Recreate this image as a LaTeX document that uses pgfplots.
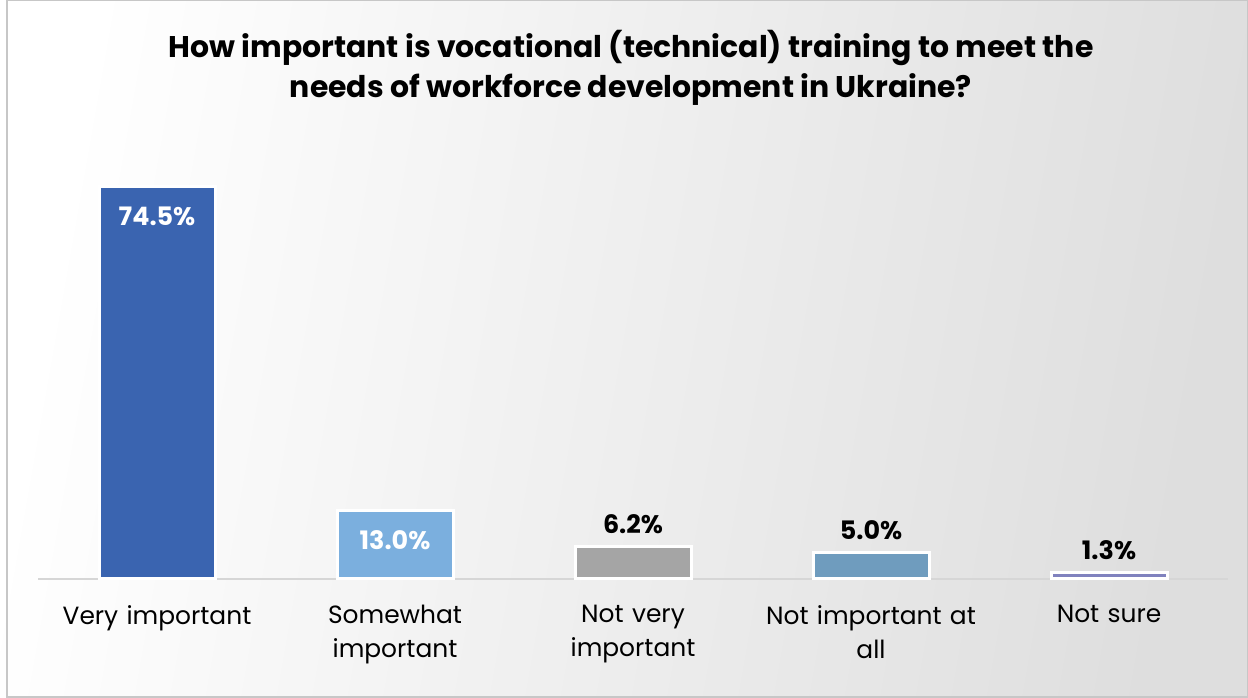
\documentclass[border=0pt]{standalone}
\usepackage{pgfplots}
\pgfplotsset{compat=1.18}
\usepackage{fontspec}
\setmainfont{Poppins}
\definecolor{c1}{HTML}{3A64B0}
\definecolor{c2}{HTML}{7BAFDE}
\definecolor{c3}{HTML}{A5A5A5}
\definecolor{c4}{HTML}{6F9CBE}
\definecolor{c5}{HTML}{8082BE}
\begin{document}
\begin{tikzpicture}[x=1bp,y=1bp]
\useasboundingbox (0,0) rectangle (1248,698);
\shade[left color=white,right color=black!13,shading angle=80] (0,0) rectangle (1248,698);
\draw[black!22,line width=1.5bp] (7,0.75) -- (7,697.25) -- (1247.25,697.25) -- (1247.25,0.75) -- cycle;
\node[font=\fontsize{30}{40}\selectfont\bfseries,align=center] at (631,630) {How important is vocational (technical) training to meet the\\needs of workforce development in Ukraine?};
\begin{axis}[
  at={(38bp,119bp)}, anchor=south west, scale only axis,
  width=1190bp, height=439bp,
  xmin=-0.5, xmax=4.5, ymin=0, ymax=83.43,
  axis y line=none, axis x line*=bottom,
  x axis line style={black!16,line width=1.5bp,-},
  xtick={0,1,2,3,4}, xtick style={draw=none},
  xticklabels={Very important,Somewhat\\important,Not very\\important,Not important at\\all,Not sure},
  xticklabel style={font=\fontsize{25}{34}\selectfont,align=center,text width=235bp,anchor=north,yshift=-23bp},
  ytick=\empty, clip=false,
  /pgf/number format/assume math mode=true,
  every axis plot/.append style={ybar,bar shift=0pt,bar width=116bp,draw=white,line width=3bp},
  nodes near coords={\pgfmathprintnumber[fixed,fixed zerofill,precision=1,assume math mode=true]{\pgfplotspointmeta}\%},
]
\addplot[fill=c1,every node near coord/.style={anchor=north,yshift=-15bp,white,font=\fontsize{25.5}{30}\selectfont\bfseries}] coordinates {(0,74.5)};
\addplot[fill=c2,every node near coord/.style={anchor=north,yshift=-15bp,white,font=\fontsize{25.5}{30}\selectfont\bfseries}] coordinates {(1,13.0)};
\addplot[fill=c3,every node near coord/.style={anchor=south,yshift=8bp,black,font=\fontsize{25.5}{30}\selectfont\bfseries}] coordinates {(2,6.2)};
\addplot[fill=c4,every node near coord/.style={anchor=south,yshift=8bp,black,font=\fontsize{25.5}{30}\selectfont\bfseries}] coordinates {(3,5.0)};
\addplot[fill=c5,every node near coord/.style={anchor=south,yshift=8bp,black,font=\fontsize{25.5}{30}\selectfont\bfseries}] coordinates {(4,1.3)};
\end{axis}
\end{tikzpicture}
\end{document}
